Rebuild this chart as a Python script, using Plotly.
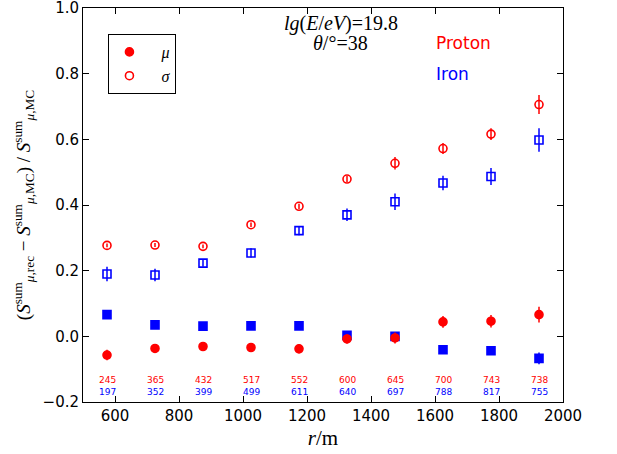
import plotly.graph_objects as go

r = [575, 725, 875, 1025, 1175, 1325, 1475, 1625, 1775, 1925]

proton_mu = [-0.057, -0.037, -0.031, -0.034, -0.038, -0.008, -0.005, 0.044, 0.046, 0.066]
proton_mu_err = [0.016, 0.011, 0.009, 0.011, 0.014, 0.014, 0.017, 0.018, 0.019, 0.024]
iron_mu = [0.066, 0.035, 0.031, 0.032, 0.032, 0.003, 0.0, -0.041, -0.044, -0.067]
iron_mu_err = [0.009, 0.007, 0.006, 0.006, 0.007, 0.009, 0.009, 0.011, 0.012, 0.018]
proton_sigma = [0.277, 0.278, 0.274, 0.340, 0.396, 0.479, 0.527, 0.572, 0.616, 0.706]
proton_sigma_err = [0.006, 0.006, 0.006, 0.007, 0.008, 0.009, 0.019, 0.017, 0.018, 0.029]
iron_sigma = [0.190, 0.187, 0.223, 0.254, 0.322, 0.370, 0.410, 0.467, 0.487, 0.598]
iron_sigma_err = [0.022, 0.019, 0.011, 0.014, 0.014, 0.019, 0.025, 0.022, 0.026, 0.036]

proton_counts = [245, 365, 432, 517, 552, 600, 645, 700, 743, 738]
iron_counts = [197, 352, 399, 499, 611, 640, 697, 788, 817, 755]

RED = "#ff0000"
BLUE = "#0000ff"

fig = go.Figure()

def add_series(y, err, color, symbol, name, show):
    fig.add_trace(go.Scatter(
        x=r, y=y, mode="markers", name=name, showlegend=show,
        marker=dict(symbol=symbol, size=8, color=color,
                    line=dict(color=color, width=1.6)),
        error_y=dict(type="data", array=err, visible=True, color=color,
                     thickness=1.5, width=0),
    ))

add_series(iron_sigma, iron_sigma_err, BLUE, "square-open", "σ Iron", False)
add_series(iron_mu, iron_mu_err, BLUE, "square", "μ Iron", False)
add_series(proton_mu, proton_mu_err, RED, "circle", "&nbsp;&nbsp;&nbsp;<i>μ</i>", True)
add_series(proton_sigma, proton_sigma_err, RED, "circle-open", "&nbsp;&nbsp;&nbsp;<i>σ</i>", True)

for xv, pc, ic in zip(r, proton_counts, iron_counts):
    fig.add_annotation(x=xv, y=-0.134, xref="x", yref="y", showarrow=False,
                       text=str(pc), font=dict(family="DejaVu Sans", size=9, color=RED))
    fig.add_annotation(x=xv, y=-0.169, xref="x", yref="y", showarrow=False,
                       text=str(ic), font=dict(family="DejaVu Sans", size=9, color=BLUE))

serif = "Liberation Serif"
fig.add_annotation(x=1305, y=0.953, xref="x", yref="y", showarrow=False,
                   text="<i>lg</i>(<i>E</i>/<i>eV</i>)=19.8",
                   font=dict(family=serif, size=20, color="black"))
fig.add_annotation(x=1305, y=0.893, xref="x", yref="y", showarrow=False,
                   text="<i>θ</i>/°=38",
                   font=dict(family=serif, size=20, color="black"))
fig.add_annotation(x=1597, y=0.893, xref="x", yref="y", showarrow=False,
                   xanchor="left", text="Proton",
                   font=dict(family="DejaVu Sans", size=17, color=RED))
fig.add_annotation(x=1597, y=0.80, xref="x", yref="y", showarrow=False,
                   xanchor="left", text="Iron",
                   font=dict(family="DejaVu Sans", size=17, color=BLUE))

axis_common = dict(showline=True, linecolor="black", linewidth=1, mirror="ticks",
                   ticks="inside", ticklen=6, tickcolor="black", showgrid=False,
                   zeroline=False, automargin=False, ticklabeloverflow="allow",
                   tickfont=dict(family="DejaVu Sans", size=15, color="black"))

fig.update_xaxes(range=[500, 2000], tickvals=[600, 800, 1000, 1200, 1400, 1600, 1800, 2000],
                 title=dict(text="<i>r</i>/m", font=dict(family=serif, size=21, color="black"),
                            standoff=6),
                 **axis_common)
fig.update_yaxes(range=[-0.2, 1.0], tickvals=[-0.2, 0.0, 0.2, 0.4, 0.6, 0.8, 1.0],
                 tickformat=".1f",
                 title=dict(text="(<i>S</i><sup>sum</sup><sub><i>μ</i>,rec</sub> − <i>S</i><sup>sum</sup><sub><i>μ</i>,MC</sub>) / <i>S</i><sup>sum</sup><sub><i>μ</i>,MC</sub>",
                            font=dict(family=serif, size=19, color="black"), standoff=6),
                 **axis_common)

fig.update_layout(
    width=617, height=454,
    margin=dict(l=83, r=54, t=8, b=52),
    plot_bgcolor="white", paper_bgcolor="white",
    legend=dict(x=0.053, y=0.934, xanchor="left", yanchor="top",
                bordercolor="black", borderwidth=1, bgcolor="white",
                font=dict(family=serif, size=16, color="black"),
                itemwidth=30, tracegroupgap=0),
)

fig.write_html("out.html", config={"displayModeBar": False},
               post_script="document.body.style.margin='0';document.body.style.padding='0';")
